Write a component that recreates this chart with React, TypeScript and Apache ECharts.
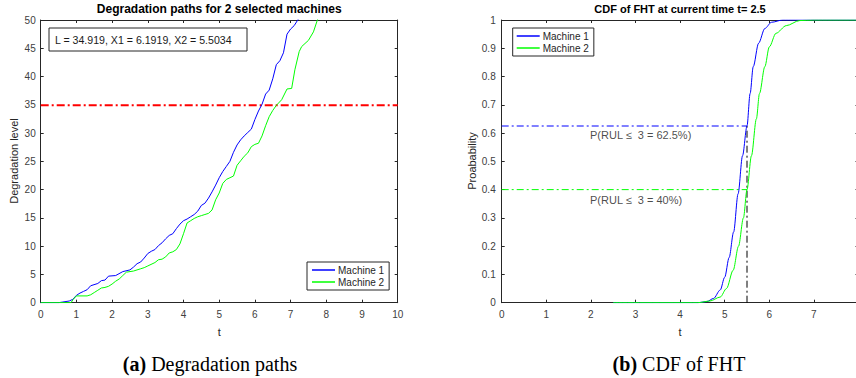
import React, { useEffect, useRef } from "react";
import * as echarts from "echarts";

// ---- Data: (a) degradation paths ----
const machine1Path: [number, number][] = [
  [0, 0], [0.5, 0], [0.6, 0.1], [0.8, 0.3], [0.9, 0.6], [1.0, 1.3], [1.1, 1.7], [1.2, 2.0], [1.3, 2.3],
  [1.4, 3.0], [1.6, 3.4], [1.7, 3.9], [1.8, 4.0], [1.9, 4.7], [2.1, 4.8], [2.3, 5.5], [2.5, 5.8],
  [2.6, 6.3], [2.7, 6.9], [2.8, 7.2], [2.9, 7.9], [3.0, 8.7], [3.1, 9.1], [3.2, 9.4], [3.3, 10.1],
  [3.4, 10.6], [3.5, 11.3], [3.6, 11.9], [3.7, 12.2], [3.8, 13.1], [3.9, 13.9], [4.0, 14.5],
  [4.1, 14.8], [4.2, 15.2], [4.3, 15.6], [4.4, 16.2], [4.5, 17.2], [4.6, 17.6], [4.7, 18.5],
  [4.8, 19.6], [4.9, 20.8], [5.0, 22.1], [5.1, 23.2], [5.2, 24.1], [5.3, 25.0], [5.4, 26.6],
  [5.5, 27.9], [5.6, 28.8], [5.7, 29.5], [5.8, 30.1], [5.9, 30.7], [6.0, 32.4], [6.1, 33.9],
  [6.2, 35.1], [6.3, 36.9], [6.4, 37.6], [6.5, 39.6], [6.6, 42.1], [6.7, 42.8], [6.8, 44.2],
  [6.9, 47.5], [7.0, 48.4], [7.1, 49.0], [7.2, 50.0], [7.3, 51.0],
];
const machine2Path: [number, number][] = [
  [0, 0], [0.85, 0], [0.9, 0.5], [1.0, 1.2], [1.3, 1.2], [1.4, 1.4], [1.5, 1.8], [1.6, 2.2],
  [1.7, 2.6], [1.8, 2.7], [1.9, 2.9], [2.0, 3.3], [2.1, 3.8], [2.2, 4.2], [2.3, 4.8], [2.4, 5.4],
  [2.6, 5.6], [2.8, 6.0], [2.9, 6.2], [3.0, 6.5], [3.2, 7.1], [3.3, 7.6], [3.4, 7.7], [3.5, 8.1],
  [3.6, 8.8], [3.7, 9.0], [3.8, 9.4], [3.9, 10.4], [4.0, 12.2], [4.1, 14.1], [4.2, 14.5],
  [4.3, 14.9], [4.4, 15.2], [4.5, 15.4], [4.6, 15.6], [4.7, 15.8], [4.8, 16.4], [4.9, 18.2],
  [5.0, 19.4], [5.1, 21.1], [5.2, 21.8], [5.3, 22.1], [5.4, 22.4], [5.5, 24.3], [5.6, 25.1],
  [5.7, 25.9], [5.8, 26.5], [5.9, 27.6], [6.0, 28.0], [6.1, 28.2], [6.2, 29.5], [6.3, 31.3],
  [6.4, 32.9], [6.5, 34.0], [6.6, 34.9], [6.75, 35.9], [6.9, 37.8], [7.03, 37.9], [7.12, 41.2],
  [7.24, 44.4], [7.31, 45.3], [7.5, 46.4], [7.64, 47.9], [7.75, 50.0], [7.85, 51.5],
];
const thresholdL = 34.919;
const thresholdSpan = [0, 10];
const infoText = "L = 34.919, X1 = 6.1919, X2 = 5.5034";

// ---- Data: (b) CDF of FHT ----
const machine1Cdf: [number, number][] = [
  [2.5, 0], [4.4, 0], [4.6, 0.004], [4.75, 0.015], [4.9, 0.045], [5.0, 0.09], [5.1, 0.16],
  [5.2, 0.25], [5.3, 0.385], [5.4, 0.52], [5.5, 0.625], [5.57, 0.74], [5.64, 0.835],
  [5.76, 0.918], [5.9, 0.97], [6.05, 0.992], [6.3, 1.0], [8.5, 1.0],
];
const machine2Cdf: [number, number][] = [
  [2.5, 0], [4.4, 0], [4.67, 0.006], [4.9, 0.02], [5.04, 0.05], [5.19, 0.115], [5.31, 0.2],
  [5.42, 0.3], [5.5, 0.4], [5.6, 0.52], [5.71, 0.65], [5.78, 0.74], [5.9, 0.835], [6.0, 0.905],
  [6.15, 0.953], [6.38, 0.98], [6.68, 0.998], [7.0, 1.0], [8.5, 1.0],
];
const evalTime = 5.5;
const prob1 = 0.625;
const prob2 = 0.4;
const probLabels = ["P(RUL \u2264  3 = 62.5%)", "P(RUL \u2264  3 = 40%)"];
const probLabelPos: [number, number][] = [[1.98, 0.593], [1.98, 0.363]];

const seriesNames = ["Machine 1", "Machine 2"];
const BLUE = "#0000ff";
const GREEN = "#00ff00";
const AX = "#262626";
const FONT = "'Liberation Sans', Arial, Helvetica, sans-serif";
const SERIF = "'Liberation Serif', 'Times New Roman', serif";

function mainAxis(gridIndex: number, min: number, max: number, interval: number, pos: string, showLabel: boolean, margin: number, showMax = true) {
  return {
    type: "value",
    gridIndex,
    min,
    max,
    interval,
    position: pos,
    axisLine: { show: true, onZero: false, lineStyle: { color: AX, width: 1 } },
    axisTick: { show: true, inside: true, length: 3, lineStyle: { color: AX } },
    axisLabel: {
      show: showLabel,
      color: "#404040",
      fontSize: 10,
      fontFamily: FONT,
      margin,
      showMinLabel: true,
      showMaxLabel: showMax,
    },
    splitLine: { show: false },
  } as any;
}

function txt(x: number, y: number, text: string, font: string, fill: string, extra: any = {}) {
  return {
    type: "text",
    x,
    y,
    ...extra,
    style: {
      text,
      font,
      fill,
      align: "center",
      verticalAlign: "middle",
      textAlign: "center",
      textVerticalAlign: "middle",
      ...(extra.style || {}),
    },
  };
}

export default function App() {
  const ref = useRef<HTMLDivElement>(null);
  useEffect(() => {
    if (!ref.current) return;
    const chart = echarts.init(ref.current, null, { renderer: "svg" });
    const dashDot = [7, 3, 2, 3];
    const legendBase = {
      data: seriesNames,
      orient: "vertical",
      itemGap: 2,
      itemWidth: 23,
      itemHeight: 1.5,
      icon: "rect",
      backgroundColor: "#ffffff",
      borderColor: AX,
      borderWidth: 1,
      borderRadius: 0,
      textStyle: { fontSize: 10, color: AX, fontFamily: FONT, padding: [0, 0, 0, -2] },
    };
    const option: any = {
      animation: false,
      backgroundColor: "#ffffff",
      textStyle: { fontFamily: FONT },
      grid: [
        { left: 40.7, top: 20, width: 357, height: 282.7, show: false },
        { left: 501.7, top: 20, width: 356.8, height: 282.7, show: false },
      ],
      xAxis: [
        mainAxis(0, 0, 10, 1, "bottom", true, 7),
        mainAxis(0, 0, 10, 1, "top", false, 7),
        mainAxis(1, 0, 8, 1, "bottom", true, 7, false),
        mainAxis(1, 0, 8, 1, "top", false, 7),
      ],
      yAxis: [
        mainAxis(0, 0, 50, 5, "left", true, 5),
        mainAxis(0, 0, 50, 5, "right", false, 5),
        mainAxis(1, 0, 1, 0.1, "left", true, 6),
        mainAxis(1, 0, 1, 0.1, "right", false, 6),
      ],
      legend: [
        { ...legendBase, left: 307, top: 262, padding: [3, 5, 3, 5] },
        { ...legendBase, left: 512.7, top: 28, padding: [3, 5, 3, 4] },
      ],
      series: [
        {
          name: "threshold",
          type: "line",
          xAxisIndex: 0,
          yAxisIndex: 0,
          data: thresholdSpan.map((t) => [t, thresholdL]),
          symbol: "none",
          lineStyle: { color: "#ff0000", width: 1.8, type: [8, 3, 2, 3] },
          z: 3,
        },
        {
          name: seriesNames[0],
          type: "line",
          xAxisIndex: 0,
          yAxisIndex: 0,
          data: machine1Path,
          symbol: "none",
          color: BLUE,
          lineStyle: { color: BLUE, width: 1 },
          z: 4,
        },
        {
          name: seriesNames[1],
          type: "line",
          xAxisIndex: 0,
          yAxisIndex: 0,
          data: machine2Path,
          symbol: "none",
          color: GREEN,
          lineStyle: { color: GREEN, width: 1 },
          z: 4,
        },
        {
          name: seriesNames[0],
          type: "line",
          xAxisIndex: 2,
          yAxisIndex: 2,
          data: machine1Cdf,
          symbol: "none",
          smooth: 0.3,
          smoothMonotone: "x",
          color: BLUE,
          lineStyle: { color: BLUE, width: 1 },
          z: 4,
        },
        {
          name: seriesNames[1],
          type: "line",
          xAxisIndex: 2,
          yAxisIndex: 2,
          data: machine2Cdf,
          symbol: "none",
          smooth: 0.3,
          smoothMonotone: "x",
          color: GREEN,
          lineStyle: { color: GREEN, width: 1 },
          z: 5,
        },
        {
          name: "p1",
          type: "line",
          xAxisIndex: 2,
          yAxisIndex: 2,
          data: [[0, prob1], [evalTime, prob1]],
          symbol: "none",
          lineStyle: { color: BLUE, width: 1, type: dashDot },
          z: 3,
        },
        {
          name: "p2",
          type: "line",
          xAxisIndex: 2,
          yAxisIndex: 2,
          data: [[0, prob2], [evalTime, prob2]],
          symbol: "none",
          lineStyle: { color: GREEN, width: 1, type: dashDot },
          z: 3,
        },
        {
          name: "tv",
          type: "line",
          xAxisIndex: 2,
          yAxisIndex: 2,
          data: [[evalTime, 0], [evalTime, prob1]],
          symbol: "none",
          lineStyle: { color: "#000000", width: 1, type: dashDot },
          z: 3,
        },
        {
          name: "labels",
          type: "scatter",
          xAxisIndex: 2,
          yAxisIndex: 2,
          symbolSize: 0,
          data: probLabelPos.map((p, i) => ({ value: p, label: { formatter: probLabels[i] } })),
          label: {
            show: true,
            position: "right",
            distance: 0,
            fontSize: 11,
            color: "#1a1a1a",
            fontFamily: FONT,
          },
          silent: true,
          z: 6,
        },
      ],
      graphic: [
        txt(219.2, 9, "Degradation paths for 2 selected machines", `bold 12px ${FONT}`, "#000"),
        txt(680, 9, "CDF of FHT at current time t= 2.5", `bold 11px ${FONT}`, "#000"),
        txt(14, 161, "Degradation level", `11px ${FONT}`, AX, { rotation: Math.PI / 2 }),
        txt(472, 161, "Proabability", `11px ${FONT}`, AX, { rotation: Math.PI / 2 }),
        txt(219.2, 332, "t", `11px ${FONT}`, AX),
        txt(680, 332, "t", `11px ${FONT}`, AX),
        {
          type: "rect",
          shape: { x: 49, y: 28, width: 198, height: 23 },
          style: { fill: "#ffffff", stroke: AX, lineWidth: 1 },
          z: 10,
        },
        txt(55, 39.5, infoText, `10.6px ${FONT}`, "#1a1a1a", {
          z: 11,
          style: { align: "left", textAlign: "left" },
        }),
        {
          type: "text",
          x: 210,
          y: 364,
          style: {
            text: "{b|(a)} {n|Degradation paths}",
            rich: {
              b: { fontFamily: SERIF, fontSize: 20, fontWeight: "bold", fill: "#000", color: "#000" },
              n: { fontFamily: SERIF, fontSize: 20, fill: "#000", color: "#000" },
            },
            font: `20px ${SERIF}`,
            fill: "#000",
            align: "center",
            verticalAlign: "middle",
            textAlign: "center",
            textVerticalAlign: "middle",
          },
        },
        {
          type: "text",
          x: 679,
          y: 364,
          style: {
            text: "{b|(b)} {n|CDF of FHT}",
            rich: {
              b: { fontFamily: SERIF, fontSize: 20, fontWeight: "bold", fill: "#000", color: "#000" },
              n: { fontFamily: SERIF, fontSize: 20, fill: "#000", color: "#000" },
            },
            font: `20px ${SERIF}`,
            fill: "#000",
            align: "center",
            verticalAlign: "middle",
            textAlign: "center",
            textVerticalAlign: "middle",
          },
        },
      ],
    };
    chart.setOption(option);
    return () => chart.dispose();
  }, []);
  return (
    <div
      ref={ref}
      style={{ position: "fixed", left: 0, top: 0, width: 872, height: 378, background: "#fff" }}
    />
  );
}
